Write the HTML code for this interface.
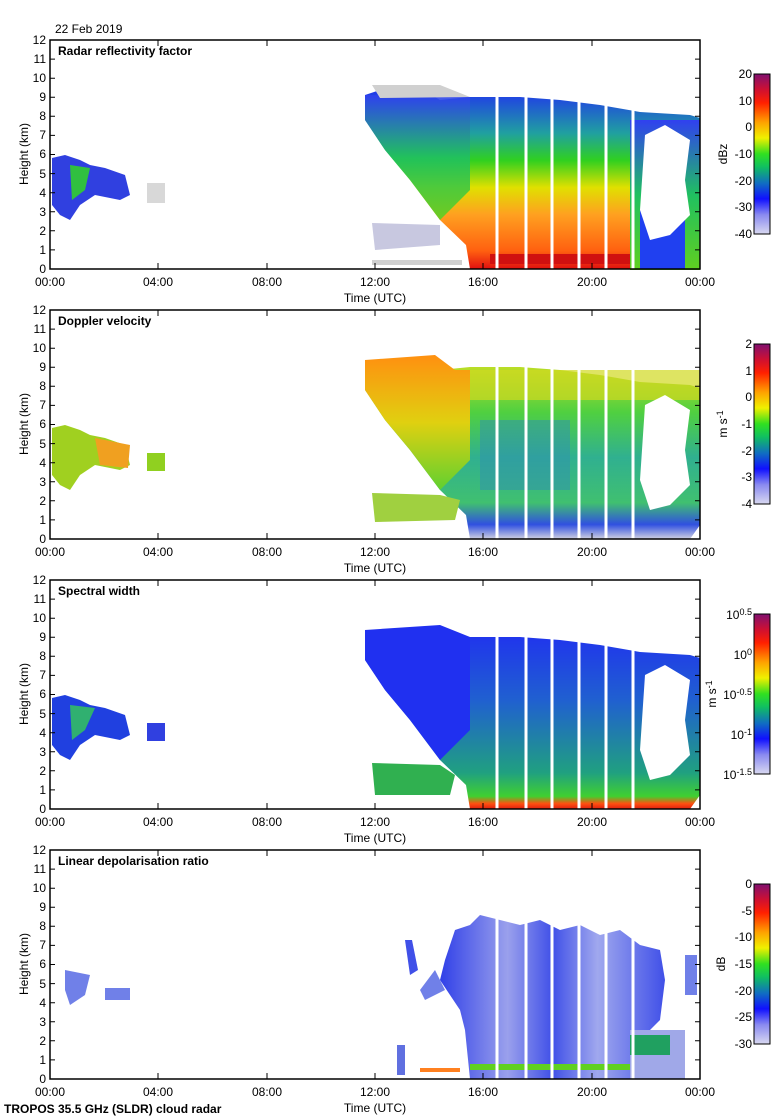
<!DOCTYPE html>
<html><head><meta charset="utf-8"><style>
body{margin:0;background:#fff;}
svg{display:block;font-family:"Liberation Sans",sans-serif;}
</style></head><body>
<svg width="780" height="1120" viewBox="0 0 780 1120" xmlns="http://www.w3.org/2000/svg">
<defs>
<linearGradient id="cb" x1="0" y1="1" x2="0" y2="0">
<stop offset="0" stop-color="#d8d8f0"/><stop offset="0.12" stop-color="#8a8af0"/><stop offset="0.22" stop-color="#1010ff"/><stop offset="0.32" stop-color="#1070c0"/><stop offset="0.42" stop-color="#10c060"/><stop offset="0.5" stop-color="#30e020"/><stop offset="0.6" stop-color="#f0f000"/><stop offset="0.7" stop-color="#ffa000"/><stop offset="0.82" stop-color="#ff2000"/><stop offset="0.9" stop-color="#d01030"/><stop offset="1" stop-color="#801070"/></linearGradient>
<linearGradient id="z" x1="0" y1="0" x2="0" y2="1">
<stop offset="0" stop-color="#2030f0"/><stop offset="0.25" stop-color="#20a0a0"/><stop offset="0.4" stop-color="#30d020"/><stop offset="0.55" stop-color="#e0e000"/><stop offset="0.7" stop-color="#ffa020"/><stop offset="0.9" stop-color="#ff6010"/><stop offset="1" stop-color="#e01010"/></linearGradient>
<linearGradient id="zr" x1="0" y1="0" x2="0" y2="1">
<stop offset="0" stop-color="#3040f0"/><stop offset="0.5" stop-color="#20c060"/><stop offset="1" stop-color="#60d020"/></linearGradient>
<linearGradient id="v" x1="0" y1="0" x2="0" y2="1">
<stop offset="0" stop-color="#d0e020"/><stop offset="0.3" stop-color="#50d040"/><stop offset="0.55" stop-color="#30b090"/><stop offset="0.8" stop-color="#40c070"/><stop offset="0.92" stop-color="#3050e0"/><stop offset="1" stop-color="#d0d0e0"/></linearGradient>
<linearGradient id="vl" x1="0" y1="0" x2="0" y2="1">
<stop offset="0" stop-color="#ff9010"/><stop offset="0.5" stop-color="#e0d010"/><stop offset="1" stop-color="#60d030"/></linearGradient>
<linearGradient id="w" x1="0" y1="0" x2="0" y2="1">
<stop offset="0" stop-color="#2030f0"/><stop offset="0.4" stop-color="#2060d0"/><stop offset="0.8" stop-color="#20a080"/><stop offset="0.93" stop-color="#40d030"/><stop offset="0.97" stop-color="#ff5010"/><stop offset="1" stop-color="#e02010"/></linearGradient>
<linearGradient id="l" x1="0" y1="0" x2="1" y2="0">
<stop offset="0" stop-color="#3040e8"/><stop offset="0.3" stop-color="#9aa0ec"/><stop offset="0.5" stop-color="#4050e8"/><stop offset="0.7" stop-color="#a0a8ee"/><stop offset="1" stop-color="#4050e8"/></linearGradient>
<g id="axes">
<rect x="50" y="0" width="650" height="229" fill="none" stroke="#000" stroke-width="1.5"/>
<g stroke="#000" stroke-width="1">
<path d="M50,19.1h5M50,38.2h5M50,57.2h5M50,76.3h5M50,95.4h5M50,114.5h5M50,133.6h5M50,152.7h5M50,171.7h5M50,190.8h5M50,209.9h5"/>
<path d="M700,19.1h-5M700,38.2h-5M700,57.2h-5M700,76.3h-5M700,95.4h-5M700,114.5h-5M700,133.6h-5M700,152.7h-5M700,171.7h-5M700,190.8h-5M700,209.9h-5"/>
<path d="M158,229v-6M267,229v-6M375,229v-6M483,229v-6M592,229v-6M158,0v6M267,0v6M375,0v6M483,0v6M592,0v6"/>
</g>
<g font-size="12" text-anchor="end">
<text x="46" y="4">12</text><text x="46" y="23">11</text><text x="46" y="42">10</text><text x="46" y="61">9</text><text x="46" y="80">8</text><text x="46" y="99">7</text><text x="46" y="118">6</text><text x="46" y="138">5</text><text x="46" y="157">4</text><text x="46" y="176">3</text><text x="46" y="195">2</text><text x="46" y="214">1</text><text x="46" y="233">0</text>
</g>
<g font-size="12" text-anchor="middle">
<text x="50" y="246">00:00</text><text x="158" y="246">04:00</text><text x="267" y="246">08:00</text><text x="375" y="246">12:00</text><text x="483" y="246">16:00</text><text x="592" y="246">20:00</text><text x="700" y="246">00:00</text>
<text x="375" y="262">Time (UTC)</text>
</g>
<text transform="translate(28,114) rotate(-90)" font-size="12" text-anchor="middle">Height (km)</text>
<rect x="754" y="34" width="16" height="160" fill="url(#cb)" stroke="#000"/>
</g>
<path id="main" d="M365,55 L380,50 L420,48 L440,60 L470,57 L520,57 L560,60 L600,65 L640,72 L690,75 L700,78 L700,215 L690,229 L470,229 L466,205 L440,180 L410,140 L385,110 L365,80 Z"/>
<path id="early" d="M52,118 L65,115 L80,120 L90,125 L105,128 L125,135 L130,155 L120,160 L95,155 L80,165 L70,180 L60,175 L52,165 Z"/>
<g id="gaps" stroke="#fff" stroke-width="3">
<path d="M497,50v179M526,50v179M552,50v179M579,50v179M606,50v179M633,60v169"/>
</g>
<path id="hole" d="M645,95 L665,85 L690,100 L685,140 L690,175 L670,195 L650,200 L640,170 Z"/>
</defs>

<text x="55" y="33" font-size="12">22 Feb 2019</text>

<!-- Panel 1 -->
<g transform="translate(0,40)">
<use href="#early" fill="#3040e0"/>
<path d="M70,125 L90,128 L85,150 L72,160 Z" fill="#30c040"/>
<rect x="147" y="143" width="18" height="20" fill="#d8d8d8"/>
<use href="#main" fill="url(#z)"/>
<path d="M365,55 L470,57 L470,150 L440,180 L410,140 L385,110 L365,80Z" fill="url(#zr)" opacity="0.9"/>
<path d="M372,45 L440,45 L470,57 L380,58Z" fill="#d0d0d0"/>
<rect x="630" y="80" width="70" height="150" fill="url(#zr)"/>
<rect x="640" y="170" width="45" height="59" fill="#2040f0"/>
<rect x="490" y="214" width="140" height="10" fill="#d01010"/>
<use href="#hole" fill="#fff"/>
<path d="M372,183 L440,185 L440,205 L375,210Z" fill="#c8c8e0"/>
<rect x="372" y="220" width="90" height="5" fill="#d0d0d0"/>
<use href="#gaps"/>
<use href="#axes"/>
<text x="58" y="15" font-size="12" font-weight="bold">Radar reflectivity factor</text>
<g font-size="12" text-anchor="end"><text x="752" y="38">20</text><text x="752" y="65">10</text><text x="752" y="91">0</text><text x="752" y="118">-10</text><text x="752" y="145">-20</text><text x="752" y="171">-30</text><text x="752" y="198">-40</text></g>
<text transform="translate(727,114) rotate(-90)" font-size="12" text-anchor="middle">dBz</text>
</g>

<!-- Panel 2 -->
<g transform="translate(0,310)">
<use href="#early" fill="#a0d020"/>
<path d="M95,128 L130,135 L128,158 L100,155Z" fill="#f0a020"/>
<rect x="147" y="143" width="18" height="18" fill="#90d020"/>
<use href="#main" fill="url(#v)"/>
<path d="M365,50 L435,45 L455,60 L470,60 L470,150 L440,180 L410,140 L385,110 L365,80Z" fill="url(#vl)"/>
<rect x="470" y="60" width="230" height="30" fill="#d0d820" opacity="0.7"/>
<rect x="480" y="110" width="90" height="70" fill="#3090b0" opacity="0.5"/>
<use href="#hole" fill="#fff"/>
<path d="M372,183 L440,185 L460,190 L455,210 L375,212Z" fill="#a0d040"/>
<use href="#gaps"/>
<use href="#axes"/>
<text x="58" y="15" font-size="12" font-weight="bold">Doppler velocity</text>
<g font-size="12" text-anchor="end"><text x="752" y="38">2</text><text x="752" y="65">1</text><text x="752" y="91">0</text><text x="752" y="118">-1</text><text x="752" y="145">-2</text><text x="752" y="171">-3</text><text x="752" y="198">-4</text></g>
<text transform="translate(727,114) rotate(-90)" font-size="12" text-anchor="middle">m s<tspan dy="-4" font-size="9">-1</tspan></text>
</g>

<!-- Panel 3 -->
<g transform="translate(0,580)">
<use href="#early" fill="#2040e0"/>
<path d="M70,125 L95,128 L85,150 L72,160 Z" fill="#30b070"/>
<rect x="147" y="143" width="18" height="18" fill="#3040e0"/>
<use href="#main" fill="url(#w)"/>
<path d="M365,50 L440,45 L470,57 L470,150 L440,180 L410,140 L385,110 L365,80Z" fill="#2030f0"/>
<use href="#hole" fill="#fff"/>
<path d="M372,183 L440,185 L455,195 L450,215 L375,215Z" fill="#30b050"/>
<use href="#gaps"/>
<use href="#axes"/>
<text x="58" y="15" font-size="12" font-weight="bold">Spectral width</text>
<g font-size="12" text-anchor="end"><text x="752" y="39">10<tspan dy="-4" font-size="9">0.5</tspan></text><text x="752" y="79">10<tspan dy="-4" font-size="9">0</tspan></text><text x="752" y="119">10<tspan dy="-4" font-size="9">-0.5</tspan></text><text x="752" y="159">10<tspan dy="-4" font-size="9">-1</tspan></text><text x="752" y="199">10<tspan dy="-4" font-size="9">-1.5</tspan></text></g>
<text transform="translate(716,114) rotate(-90)" font-size="12" text-anchor="middle">m s<tspan dy="-4" font-size="9">-1</tspan></text>
</g>

<!-- Panel 4 -->
<g transform="translate(0,850)">
<path d="M65,120 L90,125 L85,145 L70,155 L65,140Z" fill="#7080e8"/>
<rect x="105" y="138" width="25" height="12" fill="#7080e8"/>
<path d="M405,90 L412,90 L418,120 L410,125Z" fill="#4050e8"/>
<path d="M455,80 L470,75 L480,65 L500,70 L520,75 L540,70 L560,80 L580,75 L600,85 L620,80 L640,95 L660,100 L665,130 L660,170 L640,190 L640,220 L630,229 L470,229 L465,180 L460,160 L440,130 L445,110Z" fill="url(#l)"/>
<path d="M420,140 L435,120 L445,140 L425,150Z" fill="#7080e8"/>
<rect x="630" y="180" width="55" height="49" fill="#a0a8e8"/>
<rect x="630" y="185" width="40" height="20" fill="#20a060"/>
<rect x="470" y="214" width="160" height="6" fill="#60d020"/>
<rect x="685" y="105" width="12" height="40" fill="#7080e8"/>
<rect x="397" y="195" width="8" height="30" fill="#6070e0"/>
<rect x="420" y="218" width="40" height="4" fill="#ff8020"/>
<use href="#gaps"/>
<use href="#axes"/>
<text x="58" y="15" font-size="12" font-weight="bold">Linear depolarisation ratio</text>
<g font-size="12" text-anchor="end"><text x="752" y="38">0</text><text x="752" y="65">-5</text><text x="752" y="91">-10</text><text x="752" y="118">-15</text><text x="752" y="145">-20</text><text x="752" y="171">-25</text><text x="752" y="198">-30</text></g>
<text transform="translate(725,114) rotate(-90)" font-size="12" text-anchor="middle">dB</text>
</g>
<text x="4" y="1113" font-size="12" font-weight="bold">TROPOS 35.5 GHz (SLDR) cloud radar</text>
</svg>
</body></html>
